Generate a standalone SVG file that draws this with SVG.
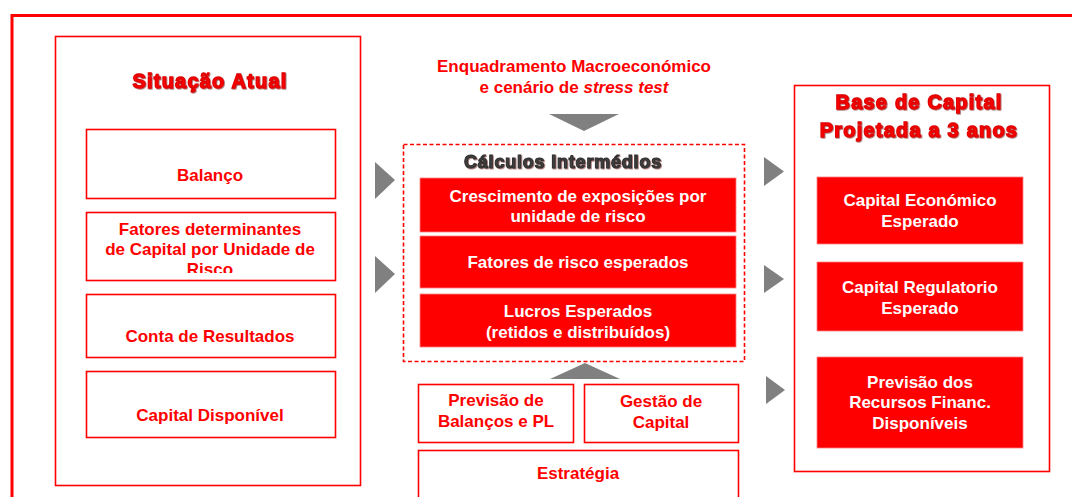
<svg xmlns="http://www.w3.org/2000/svg" width="1072" height="497" viewBox="0 0 1072 497">
<defs>
<style>
text{font-family:"Liberation Sans",Arial,sans-serif;font-weight:bold;text-anchor:middle}
.frame{fill:none;stroke:#ff0000;stroke-width:3}
.panel{fill:#fff;stroke:#ff0000;stroke-width:1.6}
.obox{fill:#fff;stroke:#ff0000;stroke-width:1.6}
.rbox{fill:#ff0000;stroke:#ff8080;stroke-width:0.8}
.dash{fill:none;stroke:#ff0000;stroke-width:1.6;stroke-dasharray:4 2.5}
.tri{fill:#808080}
.rt{fill:#ff0000;font-size:17px}
.wt{fill:#fff;font-size:17px}
.title{fill:#ff0000;font-size:20px;letter-spacing:1.2px;stroke:#e00000;stroke-width:1.3;filter:url(#sh)}
.gtitle{fill:#404040;font-size:18px;letter-spacing:0.8px;stroke:#303030;stroke-width:1.1;filter:url(#sh)}
</style>
<filter id="sh" x="-10%" y="-30%" width="120%" height="160%">
<feDropShadow dx="0.8" dy="0.8" stdDeviation="0.3" flood-color="#600000" flood-opacity="0.6"/>
</filter>
<clipPath id="clipF"><rect x="86" y="212" width="249" height="61"/></clipPath>
</defs>
<rect class="frame" x="12" y="15.5" width="1100" height="600"/>

<g id="situacao">
<rect class="panel" x="55.5" y="36.5" width="305" height="449"/>
<text class="title" x="210" y="88">Situação Atual</text>
</g>
<g id="balanco">
<rect class="obox" x="86.5" y="129.5" width="249" height="69"/>
<text class="rt" x="210" y="181">Balanço</text>
</g>
<g id="fatores">
<rect class="obox" x="86.5" y="212.5" width="249" height="68"/>
<g clip-path="url(#clipF)">
<text class="rt" x="210" y="235">Fatores determinantes</text>
<text class="rt" x="210" y="255">de Capital por Unidade de</text>
<text class="rt" x="210" y="275">Risco</text>
</g>
</g>
<g id="conta">
<rect class="obox" x="86.5" y="294.5" width="249" height="63"/>
<text class="rt" x="210" y="342">Conta de Resultados</text>
</g>
<g id="capdisp">
<rect class="obox" x="86.5" y="371.5" width="249" height="66"/>
<text class="rt" x="210" y="421">Capital Disponível</text>
</g>

<g id="macro">
<text class="rt" x="574" y="72">Enquadramento Macroeconómico</text>
<text class="rt" x="574" y="93">e cenário de <tspan font-style="italic">stress test</tspan></text>
</g>

<g id="calculos">
<rect class="dash" x="403.5" y="144.5" width="341" height="217"/>
<text class="gtitle" x="563" y="168">Cálculos Intermédios</text>
</g>
<g id="crescimento">
<rect class="rbox" x="420" y="178" width="316" height="54"/>
<text class="wt" x="578" y="202">Crescimento de exposições por</text>
<text class="wt" x="578" y="222">unidade de risco</text>
</g>
<g id="fatrisco">
<rect class="rbox" x="420" y="236" width="316" height="52"/>
<text class="wt" x="578" y="268">Fatores de risco esperados</text>
</g>
<g id="lucros">
<rect class="rbox" x="420" y="294" width="316" height="53"/>
<text class="wt" x="578" y="317">Lucros Esperados</text>
<text class="wt" x="578" y="338">(retidos e distribuídos)</text>
</g>

<g id="prevbal">
<rect class="obox" x="418.5" y="384.5" width="155" height="58"/>
<text class="rt" x="496" y="406">Previsão de</text>
<text class="rt" x="496" y="427">Balanços e PL</text>
</g>
<g id="gestao">
<rect class="obox" x="584.5" y="384.5" width="154" height="58"/>
<text class="rt" x="661" y="407">Gestão de</text>
<text class="rt" x="661" y="428">Capital</text>
</g>
<g id="estrategia">
<rect class="obox" x="418.5" y="450.5" width="320" height="48"/>
<text class="rt" x="578" y="479">Estratégia</text>
</g>

<g id="base">
<rect class="panel" x="794.5" y="85.5" width="255" height="386"/>
<text class="title" x="919" y="109">Base de Capital</text>
<text class="title" x="919" y="137">Projetada a 3 anos</text>
</g>
<g id="capeco">
<rect class="rbox" x="817" y="177" width="206" height="67"/>
<text class="wt" x="920" y="206">Capital Económico</text>
<text class="wt" x="920" y="227">Esperado</text>
</g>
<g id="capreg">
<rect class="rbox" x="817" y="262" width="206" height="69"/>
<text class="wt" x="920" y="293">Capital Regulatorio</text>
<text class="wt" x="920" y="314">Esperado</text>
</g>
<g id="prevrec">
<rect class="rbox" x="817" y="357" width="206" height="91"/>
<text class="wt" x="920" y="388">Previsão dos</text>
<text class="wt" x="920" y="408">Recursos Financ.</text>
<text class="wt" x="920" y="429">Disponíveis</text>
</g>

<g id="connectors">
<polygon class="tri" points="375,162 395,180 375,199"/>
<polygon class="tri" points="375,256 395,274 375,293"/>
<polygon class="tri" points="549,114 619,114 584,131"/>
<polygon class="tri" points="550,379 620,379 585,363"/>
<polygon class="tri" points="764,157 784,171.5 764,186"/>
<polygon class="tri" points="764,265 784,279 764,293"/>
<polygon class="tri" points="766,376 785,390 766,404"/>
</g>
</svg>
